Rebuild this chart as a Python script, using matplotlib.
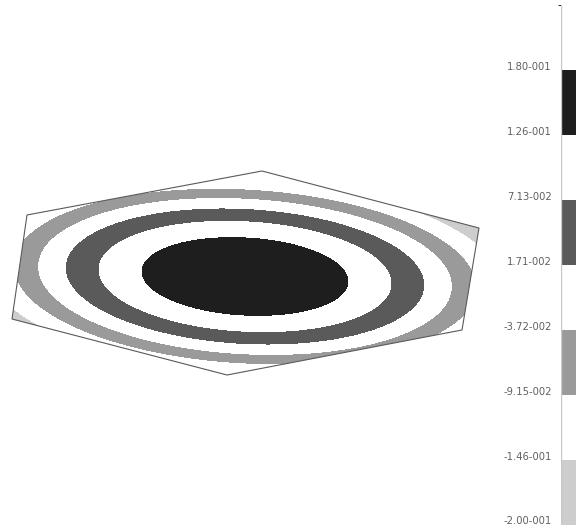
import numpy as np
import matplotlib
matplotlib.use('Agg')
import matplotlib.pyplot as plt
from matplotlib.colors import ListedColormap, BoundaryNorm
from matplotlib.patches import Polygon

# hexagonal plate outline, screen units (y grows downwards)
hex_x = [262, 479, 462, 227, 12, 27]
hex_y = [171, 228, 330, 375, 319, 215]

# band limits printed on the scale (+ the empty band on top)
levels = [-0.200, -0.146, -0.0915, -0.0372, 0.0171, 0.0713, 0.126, 0.180, 0.234]
band_colors = ['#cdcdcd', 'white', '#9a9a9a', 'white', '#5a5a5a', 'white', '#1e1e1e', 'white']

# deflection field : peak in the middle, elliptic fall-off
peak = 0.180
drop = 0.054          # per unit of (elliptic radius)^2
centre_x, centre_y = 245, 276.5
semi_x, semi_y = 103, 38.5
tilt_deg = 3.2
flat_from = 2.25      # fall-off eases off near top/bottom edges
rim_from = 5.06       # ... and near the rim in general
rim_rate = 0.78


def sci_label(v):
    # 1.80-001 style, like the solver output
    m, e = '{:.2e}'.format(v).split('e')
    return '{}-{:03d}'.format(m, abs(int(e)))


fig = plt.figure(figsize=(5.76, 5.25), dpi=100)
ax = fig.add_axes([0, 0, 1, 1])
ax.set_xlim(0, 576)
ax.set_ylim(525, 0)
ax.axis('off')

xs = np.linspace(0, 490, 800)
ys = np.linspace(160, 385, 420)
X, Y = np.meshgrid(xs, ys)
th = np.radians(tilt_deg)
dx, dy = X - centre_x, Y - centre_y
xr = (dx * np.cos(th) + dy * np.sin(th)) / semi_x
yr = np.abs(-dx * np.sin(th) + dy * np.cos(th)) / semi_y
yq = np.where(yr <= flat_from, yr**2, flat_from**2 + flat_from * (yr - flat_from))
q = xr**2 + yq
q = np.where(q <= rim_from, q, rim_from + rim_rate * (q - rim_from))
Z = peak - drop * q
Z = np.maximum(Z, levels[0])

cmap = ListedColormap(band_colors)
norm = BoundaryNorm(levels, cmap.N)

plate = Polygon(np.column_stack([hex_x, hex_y]), closed=True,
                facecolor='none', edgecolor='#5a5a5a', lw=0.8, zorder=3)
ax.add_patch(plate)
cs = ax.contourf(X, Y, Z, levels=levels, cmap=cmap, norm=norm)
cs.set_clip_path(plate)

# colour scale on the right, partly running off the page
cax = fig.add_axes([561 / 576, 0.5 / 525, 0.05, 519.5 / 525])
cbar = fig.colorbar(cs, cax=cax, ticks=levels[:-1])
cbar.outline.set_visible(False)
cax.axvline(0, color='#c8c8c8', lw=1, zorder=5)
cax.yaxis.set_ticks_position('left')
cbar.set_ticklabels([sci_label(v) for v in levels[:-1]])
cax.tick_params(length=0, pad=6.5, labelsize=7.2, labelcolor='#606060')
for lbl in cax.get_yticklabels():
    lbl.set_fontfamily('DejaVu Sans')
    lbl.set_va('baseline')

fig.savefig('out.png', dpi=100)
